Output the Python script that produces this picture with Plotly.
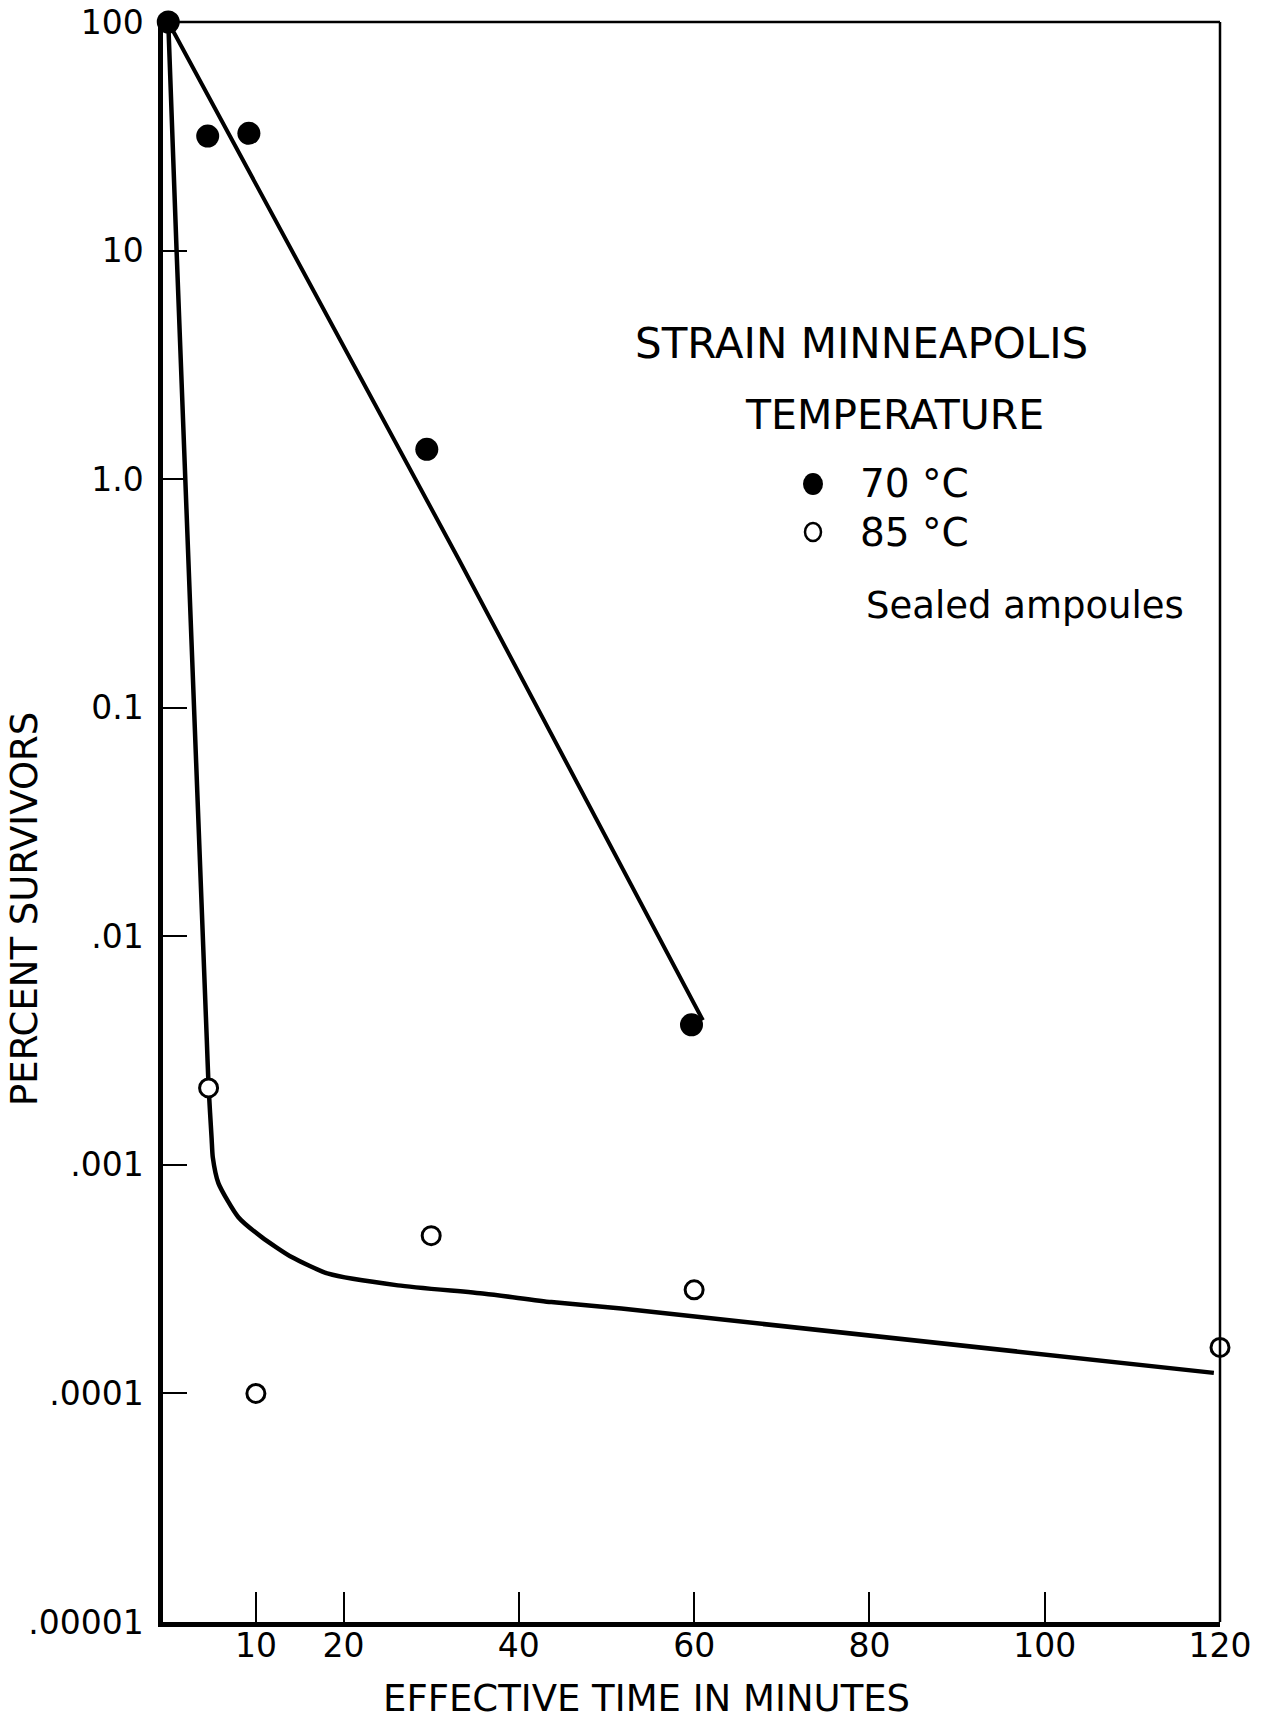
import plotly.graph_objects as go

# ---------------- data ----------------
time_70 = [0, 4.5, 9.2, 29.5, 59.7]
pct_70 = [100, 31.7, 32.6, 1.35, 0.0041]

time_85 = [4.6, 10, 30, 60, 120]
pct_85 = [0.00217, 0.0001, 0.00049, 0.000284, 0.000159]

# hand-drawn fitted curves
fit70_time = [0, 33.2, 61.0]
fit70_pct = [100, 0.442, 0.00429]

fit85_time = [0, 0.95, 4.4, 4.6, 4.95, 5.08, 5.73, 8.0, 10.66, 14.08,
              18.26, 26.2, 36.1, 43.7, 51.7, 119.3]
fit85_pct = [100, 10, 0.0035, 0.0022, 0.0013, 0.00108, 0.00083, 0.00059,
             0.000483, 0.000395, 0.000334, 0.000297, 0.000273, 0.000251, 0.000235,
             0.000123]

x_tickvals = [10, 20, 40, 60, 80, 100, 120]
x_ticktext = ["10", "20", "40", "60", "80", "100", "120"]
y_tickvals = [100, 10, 1, 0.1, 0.01, 0.001, 0.0001, 0.00001]
y_ticktext = ["100", "10", "1.0", "0.1", ".01", ".001", ".0001", ".00001"]

legend_title = ["STRAIN MINNEAPOLIS", "TEMPERATURE"]
legend_labels = ["70 °C", "85 °C"]
note_text = "Sealed ampoules"
x_title = "EFFECTIVE TIME IN MINUTES"
y_title = "PERCENT SURVIVORS"

# ---------------- layout geometry ----------------
FIG_W, FIG_H = 1262, 1720
M_L, M_R, M_T, M_B = 163, 42, 22, 98
PW = FIG_W - M_L - M_R
PH = FIG_H - M_T - M_B
FONT = "DejaVu Sans"


def px_x(px):
    return (px - M_L) / PW


def px_y(py):
    return (FIG_H - M_B - py) / PH


fig = go.Figure()

fig.add_trace(go.Scatter(x=fit70_time, y=fit70_pct, mode="lines",
                         line=dict(color="black", width=4), showlegend=False,
                         hoverinfo="skip"))
fig.add_trace(go.Scatter(x=fit85_time, y=fit85_pct, mode="lines",
                         line=dict(color="black", width=4.5, shape="spline", smoothing=0.6),
                         showlegend=False, hoverinfo="skip"))
fig.add_trace(go.Scatter(x=time_85, y=pct_85, mode="markers", name="85 °C",
                         marker=dict(size=18, color="white", symbol="circle",
                                     line=dict(color="black", width=3)),
                         showlegend=False, cliponaxis=False))
fig.add_trace(go.Scatter(x=time_70, y=pct_70, mode="markers", name="70 °C",
                         marker=dict(size=23, color="black", symbol="circle",
                                     line=dict(width=0)),
                         showlegend=False, cliponaxis=False))

fig.update_xaxes(range=[-0.6, 120.0], tickvals=x_tickvals, ticktext=x_ticktext,
                 ticks="inside", ticklen=30, tickwidth=2, tickcolor="black",
                 showline=True, linewidth=4.5, linecolor="black", mirror=False,
                 showgrid=False, zeroline=False, ticklabelstandoff=-9, automargin=False,
                 tickfont=dict(family=FONT, size=33, color="black"))
fig.update_yaxes(type="log", range=[-5, 2], tickvals=y_tickvals, ticktext=y_ticktext,
                 ticks="inside", ticklen=24, tickwidth=2, tickcolor="black",
                 showline=True, linewidth=4.5, linecolor="black", mirror=False,
                 showgrid=False, zeroline=False, ticklabelstandoff=8, automargin=False,
                 tickfont=dict(family=FONT, size=33, color="black"))

# top and right frame (thinner)
fig.add_shape(type="line", xref="paper", yref="paper", x0=0, x1=1, y0=1, y1=1,
              line=dict(color="black", width=2.5))
fig.add_shape(type="line", xref="paper", yref="paper", x0=1, x1=1, y0=0, y1=1,
              line=dict(color="black", width=2.5))

annotations = []
# axis titles
annotations.append(dict(text=x_title, xref="paper", yref="paper", x=px_x(646), y=px_y(1698),
                        xanchor="center", yanchor="middle", showarrow=False,
                        font=dict(family=FONT, size=37, color="black")))
annotations.append(dict(text=y_title, xref="paper", yref="paper", x=px_x(24), y=px_y(909),
                        xanchor="center", yanchor="middle", showarrow=False, textangle=-90,
                        font=dict(family=FONT, size=37, color="black")))
# legend block
annotations.append(dict(text=legend_title[0], xref="paper", yref="paper", x=px_x(633), y=px_y(343),
                        xanchor="left", yanchor="middle", showarrow=False,
                        font=dict(family=FONT, size=42, color="black")))
annotations.append(dict(text=legend_title[1], xref="paper", yref="paper", x=px_x(743), y=px_y(415),
                        xanchor="left", yanchor="middle", showarrow=False,
                        font=dict(family=FONT, size=41, color="black")))
for lab, yy in zip(legend_labels, [484, 532]):
    annotations.append(dict(text=lab, xref="paper", yref="paper", x=px_x(858), y=px_y(yy),
                            xanchor="left", yanchor="middle", showarrow=False,
                            font=dict(family=FONT, size=39, color="black")))
annotations.append(dict(text=note_text, xref="paper", yref="paper", x=px_x(864), y=px_y(605),
                        xanchor="left", yanchor="middle", showarrow=False,
                        font=dict(family=FONT, size=37, color="black")))

# legend symbols
fig.add_shape(type="circle", xref="paper", yref="paper", xsizemode="pixel", ysizemode="pixel",
              xanchor=px_x(813), yanchor=px_y(484), x0=-10, x1=10, y0=-11, y1=11,
              fillcolor="black", line=dict(color="black", width=0))
fig.add_shape(type="circle", xref="paper", yref="paper", xsizemode="pixel", ysizemode="pixel",
              xanchor=px_x(813), yanchor=px_y(532), x0=-8, x1=8, y0=-9, y1=9,
              fillcolor="white", line=dict(color="black", width=2.5))

fig.update_layout(width=FIG_W, height=FIG_H,
                  margin=dict(l=M_L, r=M_R, t=M_T, b=M_B, pad=0),
                  paper_bgcolor="white", plot_bgcolor="white",
                  annotations=annotations, showlegend=False)

fig.write_html("out.html")
